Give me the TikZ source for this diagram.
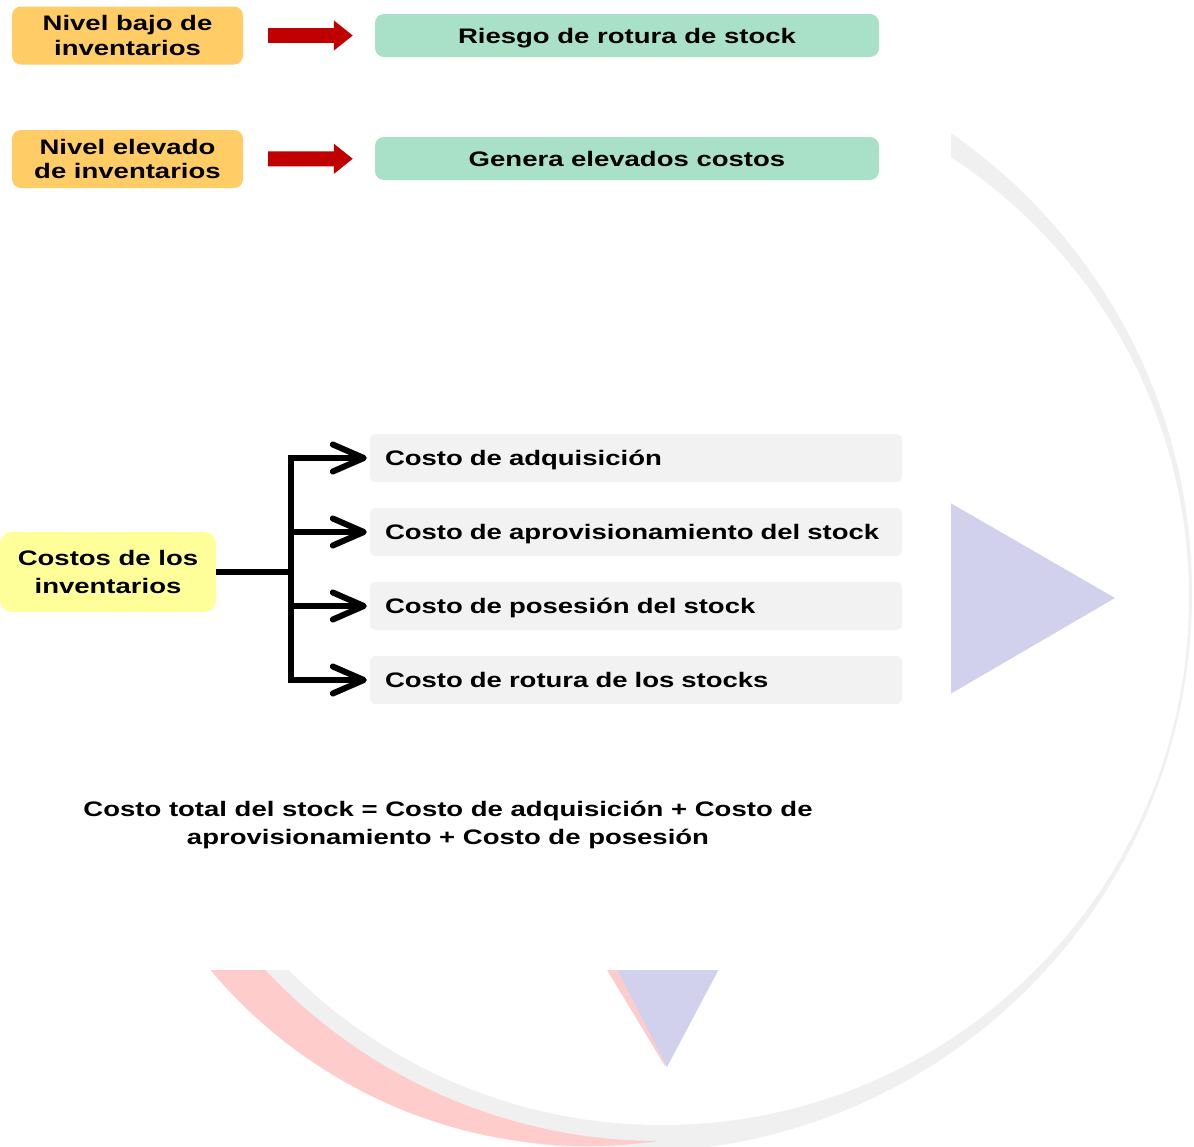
\documentclass[tikz,border=0pt]{standalone}
\usepackage{fontspec}
\setmainfont{Liberation Sans}[FakeStretch=1.31]
\usetikzlibrary{arrows.meta,positioning}

\definecolor{naranja}{RGB}{255,204,102}
\definecolor{verde}{RGB}{168,225,200}
\definecolor{amarillo}{RGB}{255,255,153}
\definecolor{grisclaro}{RGB}{242,242,242}
\definecolor{rojo}{RGB}{192,0,0}
\definecolor{anillo}{RGB}{240,240,240}
\definecolor{rosa}{RGB}{255,204,204}
\definecolor{lila}{RGB}{209,209,237}

\begin{document}
\begin{tikzpicture}[x=1pt, y=-1pt,
		font=\fontsize{21}{24.5}\selectfont\bfseries,
		caja/.style={rounded corners=9pt, inner sep=0pt, align=center},
		nivel/.style={caja, fill=naranja, minimum width=231pt, minimum height=58pt},
		efecto/.style={caja, fill=verde, minimum width=504pt, minimum height=43pt, text height=15pt, text depth=0pt},
		tipo/.style={caja, fill=grisclaro, rounded corners=6pt, text width=502pt, inner xsep=15pt, minimum height=48pt, text height=15pt, text depth=0pt, align=left},
		gruesa/.style={draw=rojo, line width=15pt, -{Triangle[length=19pt, width=29pt]}, shorten <=25pt, shorten >=22pt},
		rama/.style={line width=6pt, -{Straight Barb[length=31pt, width=27pt, round]}, shorten >=3pt}]
		\useasboundingbox (0,0) rectangle (1194,1146);

		% fondo
		\begin{scope}
			\clip (0,0) rectangle (1194,1146);
			\fill[anillo] (633,593) circle[radius=559pt];
			\fill[white] (662,598) circle[radius=527pt];
			\begin{scope}
				\clip (588,653) circle[radius=493pt];
				\fill[rosa, even odd rule] (0,0) rectangle (1194,1146) (660,600) circle[radius=541pt];
			\end{scope}
			\fill[rosa] (595,950) -- (700,950) -- (665,1066) -- cycle;
			\fill[lila] (607,950) -- (729,950) -- (667,1067) -- cycle;
			\fill[lila] (940,497) -- (940,700) -- (1115,598) -- cycle;
			\fill[white] (0,0) rectangle (951,970);
		\end{scope}

		\node[nivel] (bajo) at (127.5,35.5) {Nivel bajo de\\inventarios};
		\node[nivel] (elevado) at (127.5,159) {Nivel elevado\\de inventarios};
		\node[efecto] (riesgo) at (627,35.5) {Riesgo de rotura de stock};
		\node[efecto] (costos) at (627,158.5) {Genera elevados costos};

		\draw[gruesa] (bajo) -- (riesgo);
		\draw[gruesa] (elevado) -- (costos);

		\node[caja, fill=amarillo, rounded corners=12pt, minimum width=216pt, minimum height=80pt,
			font=\fontsize{21}{28}\selectfont\bfseries] (inv) at (108,572) {Costos de los\\inventarios};

		\node[tipo] (adq) at (636,458) {Costo de adquisición};
		\node[tipo] (aprov) at (636,532) {Costo de aprovisionamiento del stock};
		\node[tipo] (pos) at (636,606) {Costo de posesión del stock};
		\node[tipo] (rot) at (636,680) {Costo de rotura de los stocks};

		\draw[rama] (inv.east) -- ++(75,0) |- (adq);
		\draw[rama] (inv.east) -- ++(75,0) |- (aprov);
		\draw[rama] (inv.east) -- ++(75,0) |- (pos);
		\draw[rama] (inv.east) -- ++(75,0) |- (rot);

		\node[align=center, font=\fontsize{21}{28}\selectfont\bfseries] (total) at (448,825)
			{Costo total del stock = Costo de adquisición + Costo de\\aprovisionamiento + Costo de posesión};
	\end{tikzpicture}
\end{document}
